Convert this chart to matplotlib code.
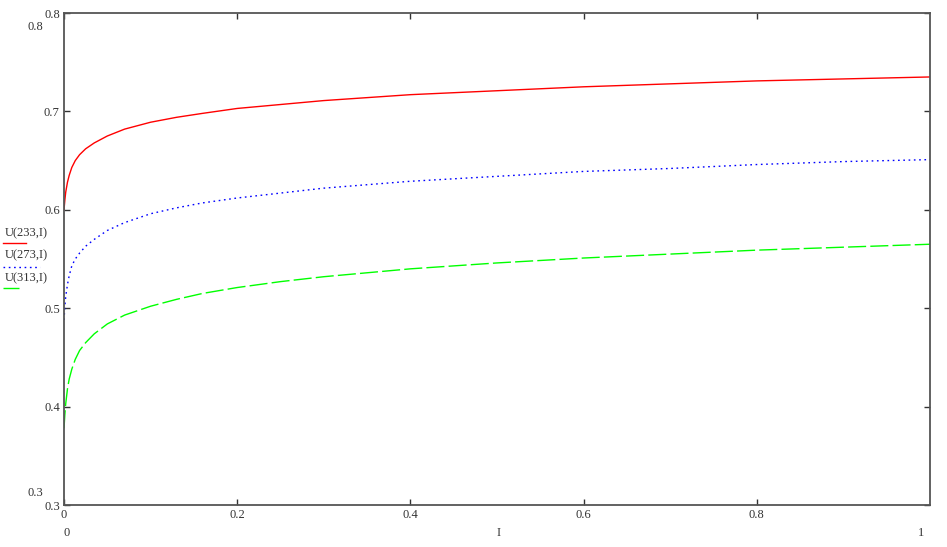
import matplotlib
matplotlib.use("Agg")
import matplotlib.pyplot as plt
from matplotlib.lines import Line2D

# current I (shared grid) and voltage U(T, I)
current = [0, 0.001, 0.002, 0.004, 0.006, 0.009, 0.013, 0.018, 0.025, 0.035,
           0.05, 0.07, 0.1, 0.13, 0.16, 0.2, 0.25, 0.3, 0.4, 0.5, 0.6, 0.7,
           0.8, 0.9, 1.0]
u_233 = [0.600, 0.610, 0.618, 0.628, 0.635, 0.643, 0.650, 0.656, 0.662, 0.668,
         0.675, 0.682, 0.689, 0.694, 0.698, 0.703, 0.707, 0.711, 0.717, 0.721,
         0.725, 0.728, 0.731, 0.733, 0.735]
u_273 = [0.488, 0.502, 0.512, 0.524, 0.533, 0.543, 0.550, 0.556, 0.563, 0.570,
         0.579, 0.587, 0.596, 0.602, 0.607, 0.612, 0.617, 0.622, 0.629, 0.634,
         0.639, 0.642, 0.646, 0.649, 0.651]
u_313 = [0.378, 0.392, 0.403, 0.418, 0.428, 0.438, 0.448, 0.457, 0.465, 0.474,
         0.484, 0.493, 0.502, 0.509, 0.515, 0.521, 0.527, 0.532, 0.540, 0.546,
         0.551, 0.555, 0.559, 0.562, 0.565]
series_labels = ["U(233,I)", "U(273,I)", "U(313,I)"]
x_ticks = [0, 0.2, 0.4, 0.6, 0.8]
y_ticks = [0.3, 0.4, 0.5, 0.6, 0.7, 0.8]

W, H = 947, 547
plt.rcParams["font.family"] = ["Liberation Serif", "DejaVu Serif"]
fig = plt.figure(figsize=(W / 100, H / 100), dpi=100)


def fx(px):
    return px / W


def fy(py):
    return 1 - py / H


ax = fig.add_axes([fx(64), fy(505), fx(930) - fx(64), fy(13) - fy(505)])

colors = ["#ff0000", "#0000ff", "#00ff00"]
styles = [dict(linestyle="-"),
          dict(linestyle=(0, (1.2, 2.6))),
          dict(linestyle=(0, (13, 3)))]

for u, c, st in zip([u_233, u_273, u_313], colors, styles):
    ax.plot(current, u, color=c, linewidth=1.0, **st)

ax.set_xlim(0, 1)
ax.set_ylim(0.3, 0.8)
ax.set_xticks(x_ticks)
ax.set_xticklabels([f"{v:g}" for v in x_ticks])
ax.set_yticks(y_ticks)
ax.set_yticklabels([f"{v:g}" for v in y_ticks])
ax.tick_params(direction="in", length=4, width=1, color="#333333",
               top=True, right=True, labelsize=9, labelcolor="#333333", pad=3)
for s in ax.spines.values():
    s.set_color("#555555")
    s.set_linewidth(1.3)

# Mathcad-style range labels
txt = dict(fontsize=9, color="#333333")
fig.text(fx(43), fy(27), "0.8", ha="right", va="center", **txt)
fig.text(fx(43), fy(493), "0.3", ha="right", va="center", **txt)
fig.text(fx(67), fy(533), "0", ha="center", va="center", **txt)
fig.text(fx(921), fy(533), "1", ha="center", va="center", **txt)
fig.text(fx(499), fy(533), "I", ha="center", va="center", **txt)

# legend on the left
text_y = [233, 255, 278]
line_y = [243, 267, 288]
line_end = [26, 40, 19]
for lab, c, st, ty, ly, le in zip(series_labels, colors, styles, text_y, line_y, line_end):
    fig.text(fx(5), fy(ty), lab, ha="left", va="center", **txt)
    fig.add_artist(Line2D([fx(3), fx(le)], [fy(ly), fy(ly)], color=c,
                          linewidth=1.0, transform=fig.transFigure, **st))

fig.savefig("out.png", dpi=100)
